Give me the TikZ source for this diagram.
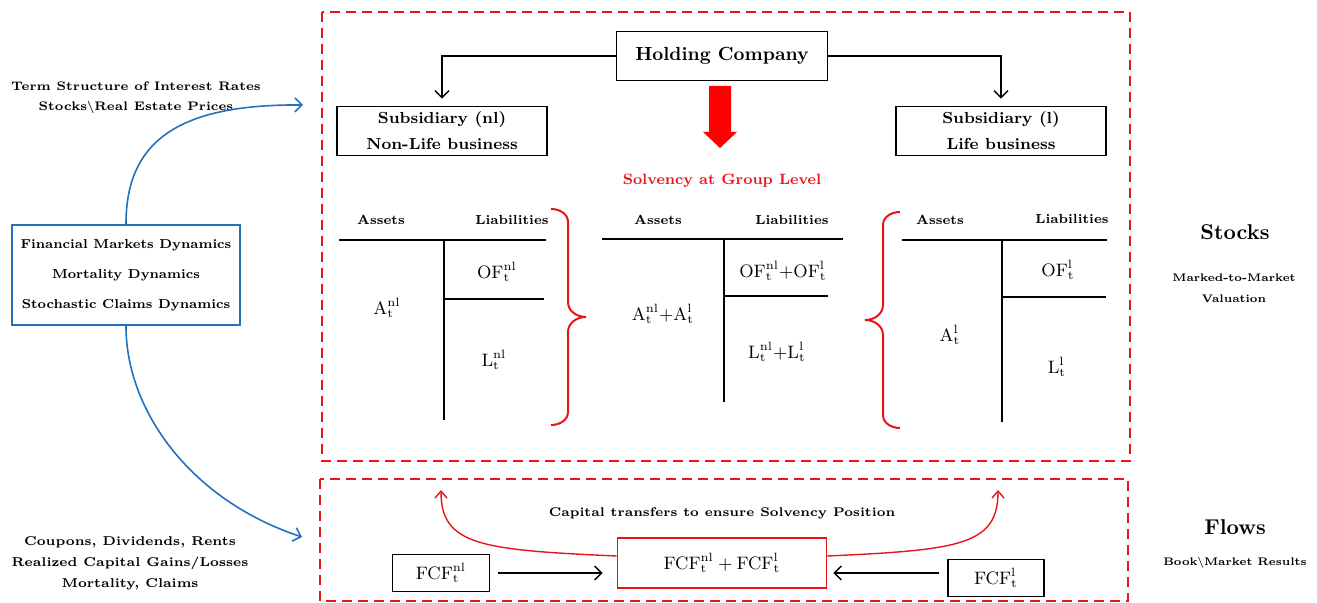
\documentclass[tikz,border=0pt]{standalone}
\usetikzlibrary{arrows.meta}
\definecolor{dred}{RGB}{232,20,24}
\definecolor{fblue}{RGB}{34,114,190}
\tikzset{
  reddash/.style={draw=dred, line width=1.1pt, dash pattern=on 5pt off 3pt},
  bbox/.style={draw=black, line width=0.8pt, inner sep=0pt, align=center},
  arr/.style={draw=black, line width=0.7pt, -{Straight Barb[length=3.5pt,width=7pt]}},
  redarr/.style={draw=dred, line width=0.7pt, -{Straight Barb[length=3.5pt,width=6pt]}},
  bluearr/.style={draw=fblue, line width=0.8pt, -{Straight Barb[length=3.5pt,width=7pt]}},
  tline/.style={line width=1pt},
  lbl/.style={font=\fontsize{6.4}{10.5}\selectfont\bfseries, align=center, inner sep=0pt},
  hdr/.style={font=\fontsize{6.6}{9}\selectfont\bfseries, inner sep=0pt},
  mth/.style={font=\fontsize{9}{11}\selectfont, inner sep=0pt},
  big/.style={font=\fontsize{10.7}{13}\selectfont\bfseries, inner sep=0pt},
  small/.style={font=\fontsize{5.5}{10.5}\selectfont\bfseries, align=center, inner sep=0pt},
}
\newcommand{\mr}[3]{\mathrm{#1}^{\mathrm{#2}}_{\mathrm{t}}#3}
\begin{document}
\begin{tikzpicture}[x=0.5pt,y=-0.5pt]
\useasboundingbox (0,0) rectangle (1317,603);

% dashed frames
\draw[reddash] (322,12) rectangle (1130,461);
\draw[reddash] (320,479) rectangle (1128,601);

% holding and subsidiaries
\node[bbox, minimum width=105.5pt, minimum height=24.5pt, font=\fontsize{9.5}{12}\selectfont\bfseries] (hold) at (722,56) {Holding Company};
\node[bbox, minimum width=105pt, minimum height=24.5pt, font=\fontsize{8}{13}\selectfont\bfseries] (subnl) at (442,131) {Subsidiary (nl)\\Non-Life business};
\node[bbox, minimum width=105pt, minimum height=24.5pt, font=\fontsize{8}{13}\selectfont\bfseries] (subl) at (1001,131) {Subsidiary (l)\\Life business};
\draw[arr, shorten >=3.5pt] (hold.west) -| (subnl.north);
\draw[arr, shorten >=3.5pt] (hold.east) -| (subl.north);

% big red arrow
\fill[red] (709,86) -- (731,86) -- (731,132) -- (737,132) -- (720,148) -- (703,132) -- (709,132) -- cycle;
\node[font=\fontsize{7.5}{9}\selectfont\bfseries, text=dred, inner sep=0pt] (solv) at (722,181) {Solvency at Group Level};

% left balance sheet
\node[hdr] (as1) at (381,220) {Assets};
\node[hdr] (li1) at (512,220) {Liabilities};
\draw[tline] (339,240) -- (546,240);
\draw[tline] (444,240) -- (444,420);
\draw[tline] (444,299) -- (544,299);
\node[mth] (a1) at (387,308) {$\mr{A}{nl}{}$};
\node[mth] (of1) at (497,272) {$\mr{OF}{nl}{}$};
\node[mth] (l1) at (494,360) {$\mr{L}{nl}{}$};

% left brace
\draw[dred, line width=1pt] (551,209) to[out=0,in=90] (568,222) -- (568,302) to[out=-90,in=180] (586,317);
\draw[dred, line width=1pt] (586,317) to[out=180,in=90] (568,332) -- (568,412) to[out=-90,in=0] (551,425);

% middle balance sheet
\node[hdr] (as2) at (658,220) {Assets};
\node[hdr] (li2) at (792,220) {Liabilities};
\draw[tline] (602,239) -- (843,239);
\draw[tline] (724,239) -- (724,402);
\draw[tline] (724,296) -- (828,296);
\node[mth] (a2) at (663,314) {$\mr{A}{nl}{}\mathord{+}\mr{A}{l}{}$};
\node[mth] (of2) at (783,271) {$\mr{OF}{nl}{}\mathord{+}\mr{OF}{l}{}$};
\node[mth] (l2) at (777,352) {$\mr{L}{nl}{}\mathord{+}\mr{L}{l}{}$};

% right brace
\draw[dred, line width=1pt] (900,212) to[out=180,in=90] (883,225) -- (883,305) to[out=-90,in=0] (865,320);
\draw[dred, line width=1pt] (865,320) to[out=0,in=90] (883,335) -- (883,415) to[out=-90,in=180] (900,428);

% right balance sheet
\node[hdr] (as3) at (940,220) {Assets};
\node[hdr] (li3) at (1072,219) {Liabilities};
\draw[tline] (902,240) -- (1107,240);
\draw[tline] (1002,240) -- (1002,422);
\draw[tline] (1002,297) -- (1106,297);
\node[mth] (a3) at (950,335) {$\mr{A}{l}{}$};
\node[mth] (of3) at (1058,270) {$\mr{OF}{l}{}$};
\node[mth] (l3) at (1057,367) {$\mr{L}{l}{}$};

% right side labels
\node[big] (stocks) at (1235,232) {Stocks};
\node[small] (mtm) at (1234,288.5) {Marked-to-Market\\Valuation};
\node[big] (flows) at (1235,527) {Flows};
\node[small] (bmr) at (1235,563) {Book\textbackslash Market Results};

% left side
\node[draw=fblue, line width=1.2pt, minimum width=114pt, minimum height=50pt, inner sep=0pt, align=center, font=\fontsize{6.5}{15}\selectfont\bfseries] (fin) at (126,275) {Financial Markets Dynamics\\Mortality Dynamics\\Stochastic Claims Dynamics};
\node[lbl, font=\fontsize{6.2}{10}\selectfont\bfseries] (term) at (136,98) {Term Structure of Interest Rates\\Stocks\textbackslash Real Estate Prices};
\node[lbl] (coup) at (130,563) {Coupons, Dividends,\ Rents\\Realized Capital Gains/Losses\\Mortality, Claims};
\coordinate (bt) at (303,105);
\coordinate (bb) at (302,537);
\draw[bluearr] (fin.north) .. controls (126,140) and (180,104) .. (bt);
\draw[bluearr] (fin.south) .. controls (126,410) and (190,500) .. (bb);

% flows part
\node[font=\fontsize{6.3}{9}\selectfont\bfseries, inner sep=0pt] (cap) at (722,513) {Capital transfers to ensure Solvency Position};
\node[draw=dred, line width=0.8pt, minimum width=104.5pt, minimum height=25pt, inner sep=0pt, font=\fontsize{9}{11}\selectfont] (fsum) at (722,563) {$\mr{FCF}{nl}{}+\mr{FCF}{l}{}$};
\node[bbox, minimum width=48.5pt, minimum height=18.5pt, font=\fontsize{9}{11}\selectfont] (fnl) at (441,573) {$\mr{FCF}{nl}{}$};
\node[bbox, minimum width=48pt, minimum height=18.5pt, font=\fontsize{9}{11}\selectfont] (fl) at (996,578) {$\mr{FCF}{l}{}$};
\draw[arr, shorten <=4pt, shorten >=7pt] (fnl.east) -- (fnl.east -| fsum.west);
\draw[arr, shorten <=4pt, shorten >=3pt] (fl.west |- fnl.east) -- (fsum.east |- fnl.east);
\coordinate (cl) at (441,490);
\coordinate (cr) at (998,490);
\draw[redarr] ([yshift=3.5pt]fsum.west) .. controls (480,550) and (441,545) .. (cl);
\draw[redarr] ([yshift=3.5pt]fsum.east) .. controls (960,550) and (998,545) .. (cr);
\end{tikzpicture}
\end{document}
